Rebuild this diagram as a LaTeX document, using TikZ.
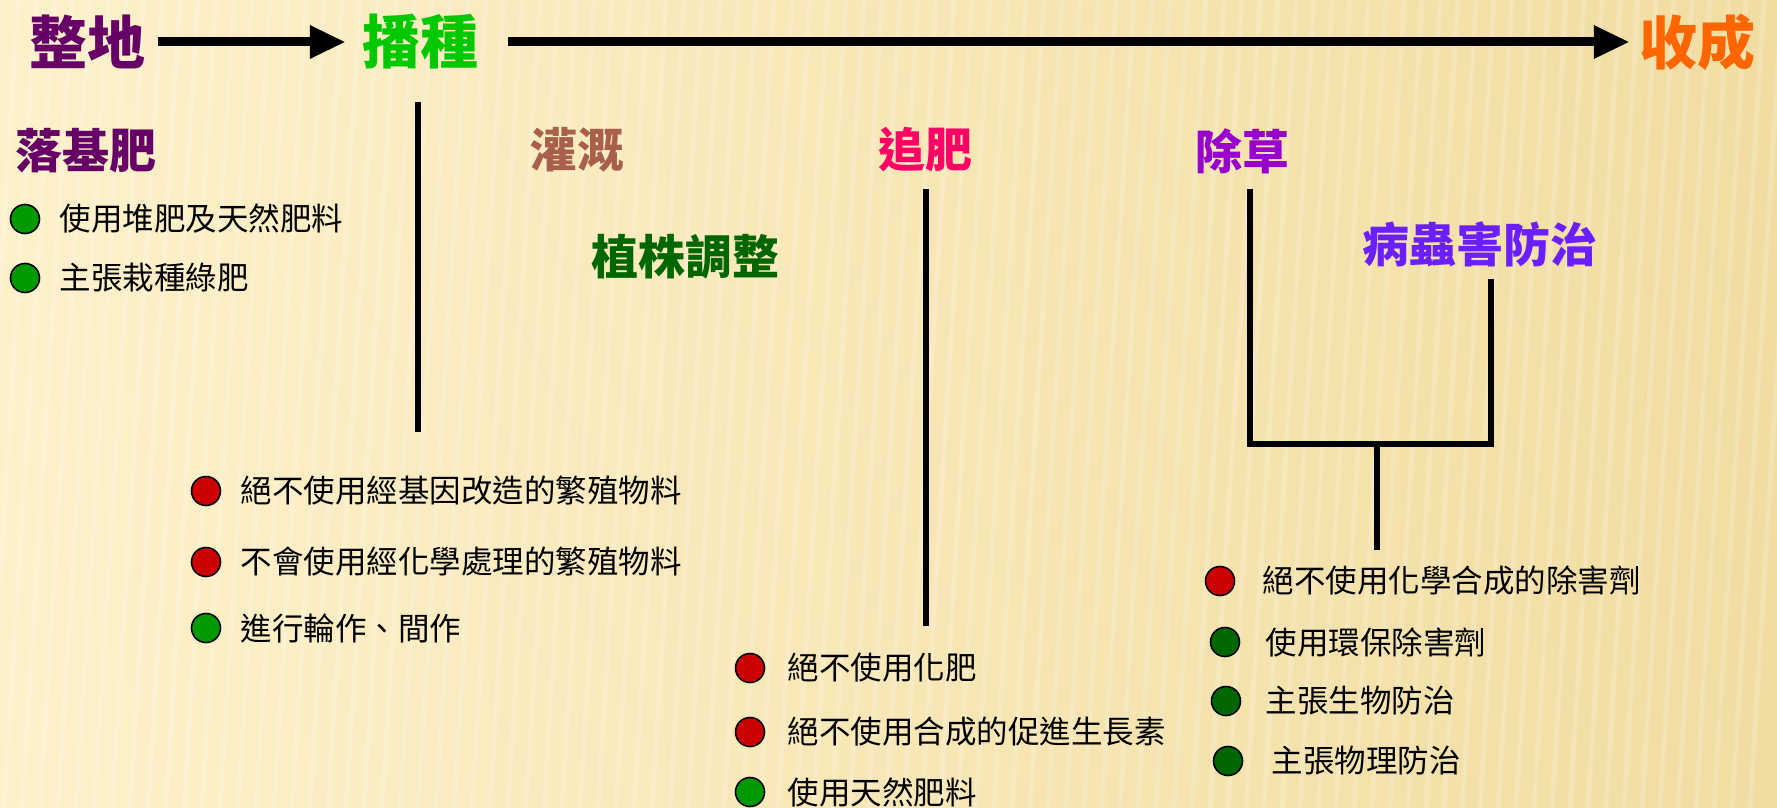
\documentclass[tikz,border=0pt]{standalone}
\usepackage{fontspec}
\newfontfamily\cjk{Noto Sans CJK TC}
\usetikzlibrary{arrows.meta,positioning}

\definecolor{bgleft}{HTML}{FDF1CA}
\definecolor{bgright}{HTML}{F1DDA2}
\definecolor{prepcol}{HTML}{660066}
\definecolor{sowcol}{HTML}{00C800}
\definecolor{harvcol}{HTML}{FF6600}
\definecolor{irrcol}{HTML}{A8604C}
\definecolor{plantcol}{HTML}{006600}
\definecolor{topcol}{HTML}{FF0066}
\definecolor{weedcol}{HTML}{9900CC}
\definecolor{pestcol}{HTML}{6B1EFF}
\definecolor{nogood}{HTML}{CC0000}
\definecolor{good}{HTML}{009900}
\definecolor{goodd}{HTML}{006600}

\tikzset{
  stage/.style={font=\cjk\bfseries\fontsize{58}{60}\selectfont, inner sep=0pt},
  task/.style={font=\cjk\bfseries\fontsize{47}{50}\selectfont, inner sep=0pt},
  item/.style={font=\cjk\fontsize{31.5}{34}\selectfont, inner sep=0pt},
  dot/.style={circle, draw=black, line width=1.6pt, minimum size=29pt, inner sep=0pt},
  flow/.style={line width=9pt, -{Triangle[length=36pt,width=31pt]}},
  stem/.style={line width=6.5pt}
}

\begin{document}
\begin{tikzpicture}[x=1pt,y=-1pt]
  \useasboundingbox (0,0) rectangle (1777,808);
  % background
  \fill[left color=bgleft, right color=bgright] (0,0) rectangle (1777,808);
  \foreach \x in {0,18,...,1800}
    \draw[white, opacity=0.18, line width=5pt] (\x-50,808) -- (\x,0);

  % stages
  \node[stage,text=prepcol] (prep) at (87,42) {整地};
  \node[stage,text=sowcol] (sow) at (420,42) {播種};
  \node[stage,text=harvcol] (harv) at (1697,42) {收成};
  \draw[flow] ([xshift=13pt]prep.east) -- ([xshift=-16pt]sow.west);
  \draw[flow] ([xshift=30pt]sow.east) -- ([xshift=-9pt]harv.west);

  % tasks
  \node[task,text=prepcol] (base) at (86,151) {落基肥};
  \node[task,text=irrcol] (irr) at (577,150) {灌溉};
  \node[task,text=plantcol] (plant) at (685,257) {植株調整};
  \node[task,text=topcol] (topd) at (925,150) {追肥};
  \node[task,text=weedcol] (weed) at (1242,151) {除草};
  \node[task,text=pestcol] (pest) at (1480,244) {病蟲害防治};

  % lines
  \coordinate (sowtop) at (418,102);
  \coordinate (sowbot) at (418,432);
  \coordinate (toptop) at (926,189);
  \coordinate (topbot) at (926,626);
  \coordinate (weedtop) at (1250,189);
  \coordinate (pesttop) at (1491,279);
  \coordinate (pestfoot) at (1491,444);
  \coordinate (joinmid) at (1377,444);
  \coordinate (joinbot) at (1377,550);
  \draw[stem] (sowtop) -- (sowbot);
  \draw[stem] (toptop) -- (topbot);
  \draw[stem] (weedtop) |- (pestfoot) -- (pesttop);
  \draw[stem] (joinmid) -- (joinbot);

  % base fertiliser
  \node[dot,fill=good] (b1) at (25,219) {};
  \node[item,right=19pt of b1] {使用堆肥及天然肥料};
  \node[dot,fill=good] (b2) at (25,278) {};
  \node[item,right=19pt of b2] {主張栽種綠肥};

  % sowing
  \node[dot,fill=nogood] (s1) at (206,491) {};
  \node[item,right=19pt of s1] {絕不使用經基因改造的繁殖物料};
  \node[dot,fill=nogood] (s2) at (206,562) {};
  \node[item,right=19pt of s2] {不會使用經化學處理的繁殖物料};
  \node[dot,fill=good] (s3) at (206,628) {};
  \node[item,right=19pt of s3] {進行輪作、間作};

  % top dressing
  \node[dot,fill=nogood] (t1) at (750,668) {};
  \node[item,right=22pt of t1] {絕不使用化肥};
  \node[dot,fill=nogood] (t2) at (750,732) {};
  \node[item,right=22pt of t2] {絕不使用合成的促進生長素};
  \node[dot,fill=good] (t3) at (750,792) {};
  \node[item,right=22pt of t3] {使用天然肥料};

  % weeding and pests
  \node[dot,fill=nogood] (w1) at (1220,581) {};
  \node[item,right=27pt of w1] {絕不使用化學合成的除害劑};
  \node[dot,fill=goodd] (w2) at (1225,642) {};
  \node[item,right=25pt of w2] {使用環保除害劑};
  \node[dot,fill=goodd] (w3) at (1226,701) {};
  \node[item,right=24pt of w3] {主張生物防治};
  \node[dot,fill=goodd] (w4) at (1228,761) {};
  \node[item,right=28pt of w4] {主張物理防治};
\end{tikzpicture}
\end{document}
